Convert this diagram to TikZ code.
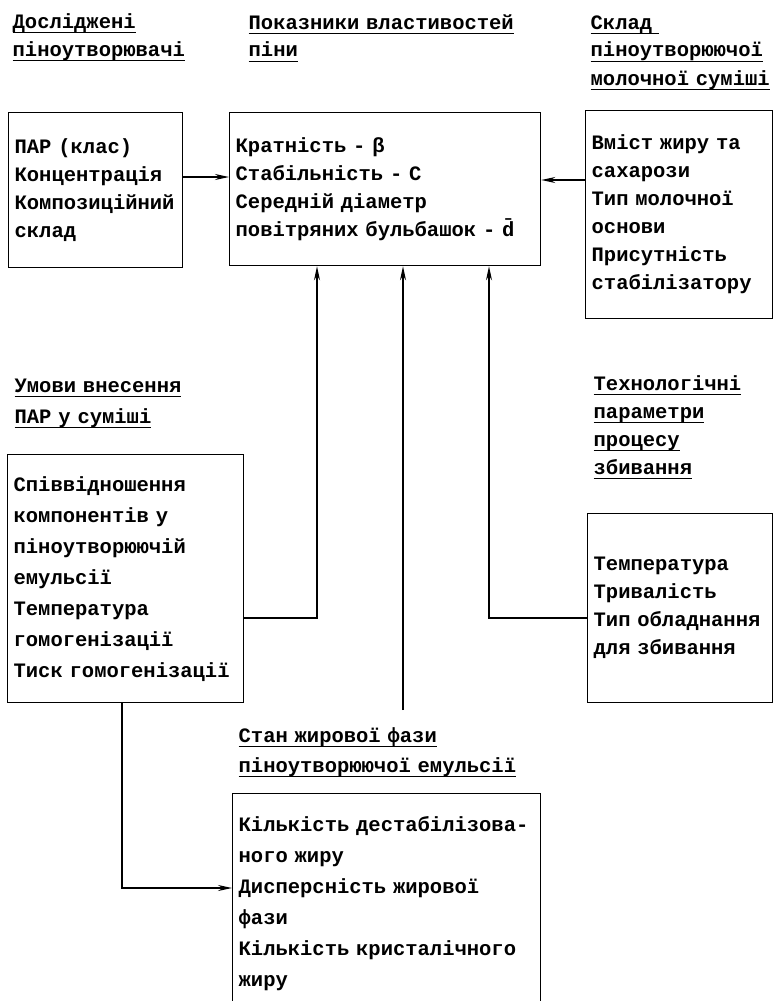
\documentclass[tikz,border=0pt]{standalone}
\usepackage{fontspec}
\setmonofont{Liberation Mono}
\usetikzlibrary{arrows.meta}

% underlined heading line
\newcommand{\undl}[1]{\leavevmode\setbox0\hbox{#1}\rlap{\rule[-5pt]{\wd0}{1.4pt}}\box0}

\tikzset{
  box/.style={draw, line width=1.3pt, anchor=north west, align=left,
    inner xsep=6pt, inner ysep=0pt,
    font=\ttfamily\bfseries\fontsize{20.5}{28}\selectfont},
  head/.style={anchor=base west, align=left, inner sep=0pt, text width=295pt,
    font=\ttfamily\bfseries\fontsize{20.5}{28}\selectfont},
  wide/.style={font=\ttfamily\bfseries\fontsize{20.5}{31}\selectfont}
}

\begin{document}
\begin{tikzpicture}[x=1pt, y=-1pt, >={Stealth[length=14pt,width=6pt]}, line width=1.3pt]
  \useasboundingbox (0,0) rectangle (777,1001);
  \clip (0,0) rectangle (777,1001);

  % headings
  \node[head] (hd1) at (12,28) {\undl{Досліджені}\\\undl{піноутворювачі}};
  \node[head] (hd2) at (248,29) {\undl{Показники властивостей}\\\undl{піни}};
  \node[head] (hd3) at (590,29) {\undl{Склад }\\\undl{піноутворюючої}\\\undl{молочної суміші}};
  \node[head, wide] (hd4) at (14,392) {\undl{Умови внесення}\\\undl{ПАР у суміші}};
  \node[head] (hd5) at (593,390) {\undl{Технологічні}\\\undl{параметри}\\\undl{процесу}\\\undl{збивання}};
  \node[head, font=\ttfamily\bfseries\fontsize{20.5}{30}\selectfont] (hd6) at (238,742)
    {\undl{Стан жирової фази}\\\undl{піноутворюючої емульсії}};

  % boxes
  \node[box, text width=162pt, minimum height=155pt] (box1) at (8,112)
    {ПАР (клас)\\Концентрація\\Композиційний\\склад};
  \node[box, text width=299pt, minimum height=153pt] (box2) at (229,112)
    {Кратність - β\\Стабільність - С\\Середній діаметр\\повітряних бульбашок - \={d}};
  \node[box, text width=175pt, minimum height=208pt] (box3) at (585,110)
    {Вміст жиру та\\сахарози\\Тип молочної\\основи\\Присутність\\стабілізатору};
  \node[box, wide, text width=224pt, minimum height=248pt] (box4) at (7,454)
    {Співвідношення\\компонентів у\\піноутворюючій\\емульсії\\Температура\\гомогенізації\\Тиск гомогенізації};
  \node[box, text width=173pt, minimum height=189pt] (box5) at (587,513)
    {Температура\\Тривалість\\Тип обладнання\\для збивання};
  \node[box, wide, text width=296pt, minimum height=220pt] (box6) at (232,793)
    {Кількість дестабілізова-\\ного жиру\\Дисперсність жирової\\фази\\Кількість кристалічного\\жиру};

  % connectors
  \coordinate (j1) at (317,618);
  \coordinate (j2) at (403,710);
  \coordinate (j3) at (489,618);
  \coordinate (j4) at (122,888);
  \coordinate (j5) at (200,177);
  \coordinate (j6) at (560,180);

  \draw[->] (box1.east |- j5) -- (box2.west |- j5);
  \draw[->] (box3.west |- j6) -- (box2.east |- j6);
  \draw[->] (box4.east |- j1) -| (j1 |- box2.south);
  \draw[->] (j2) -- (j2 |- box2.south);
  \draw[->] (box5.west |- j3) -| (j3 |- box2.south);
  \draw[->] (box4.south -| j4) |- (box6.west |- j4);
\end{tikzpicture}
\end{document}
